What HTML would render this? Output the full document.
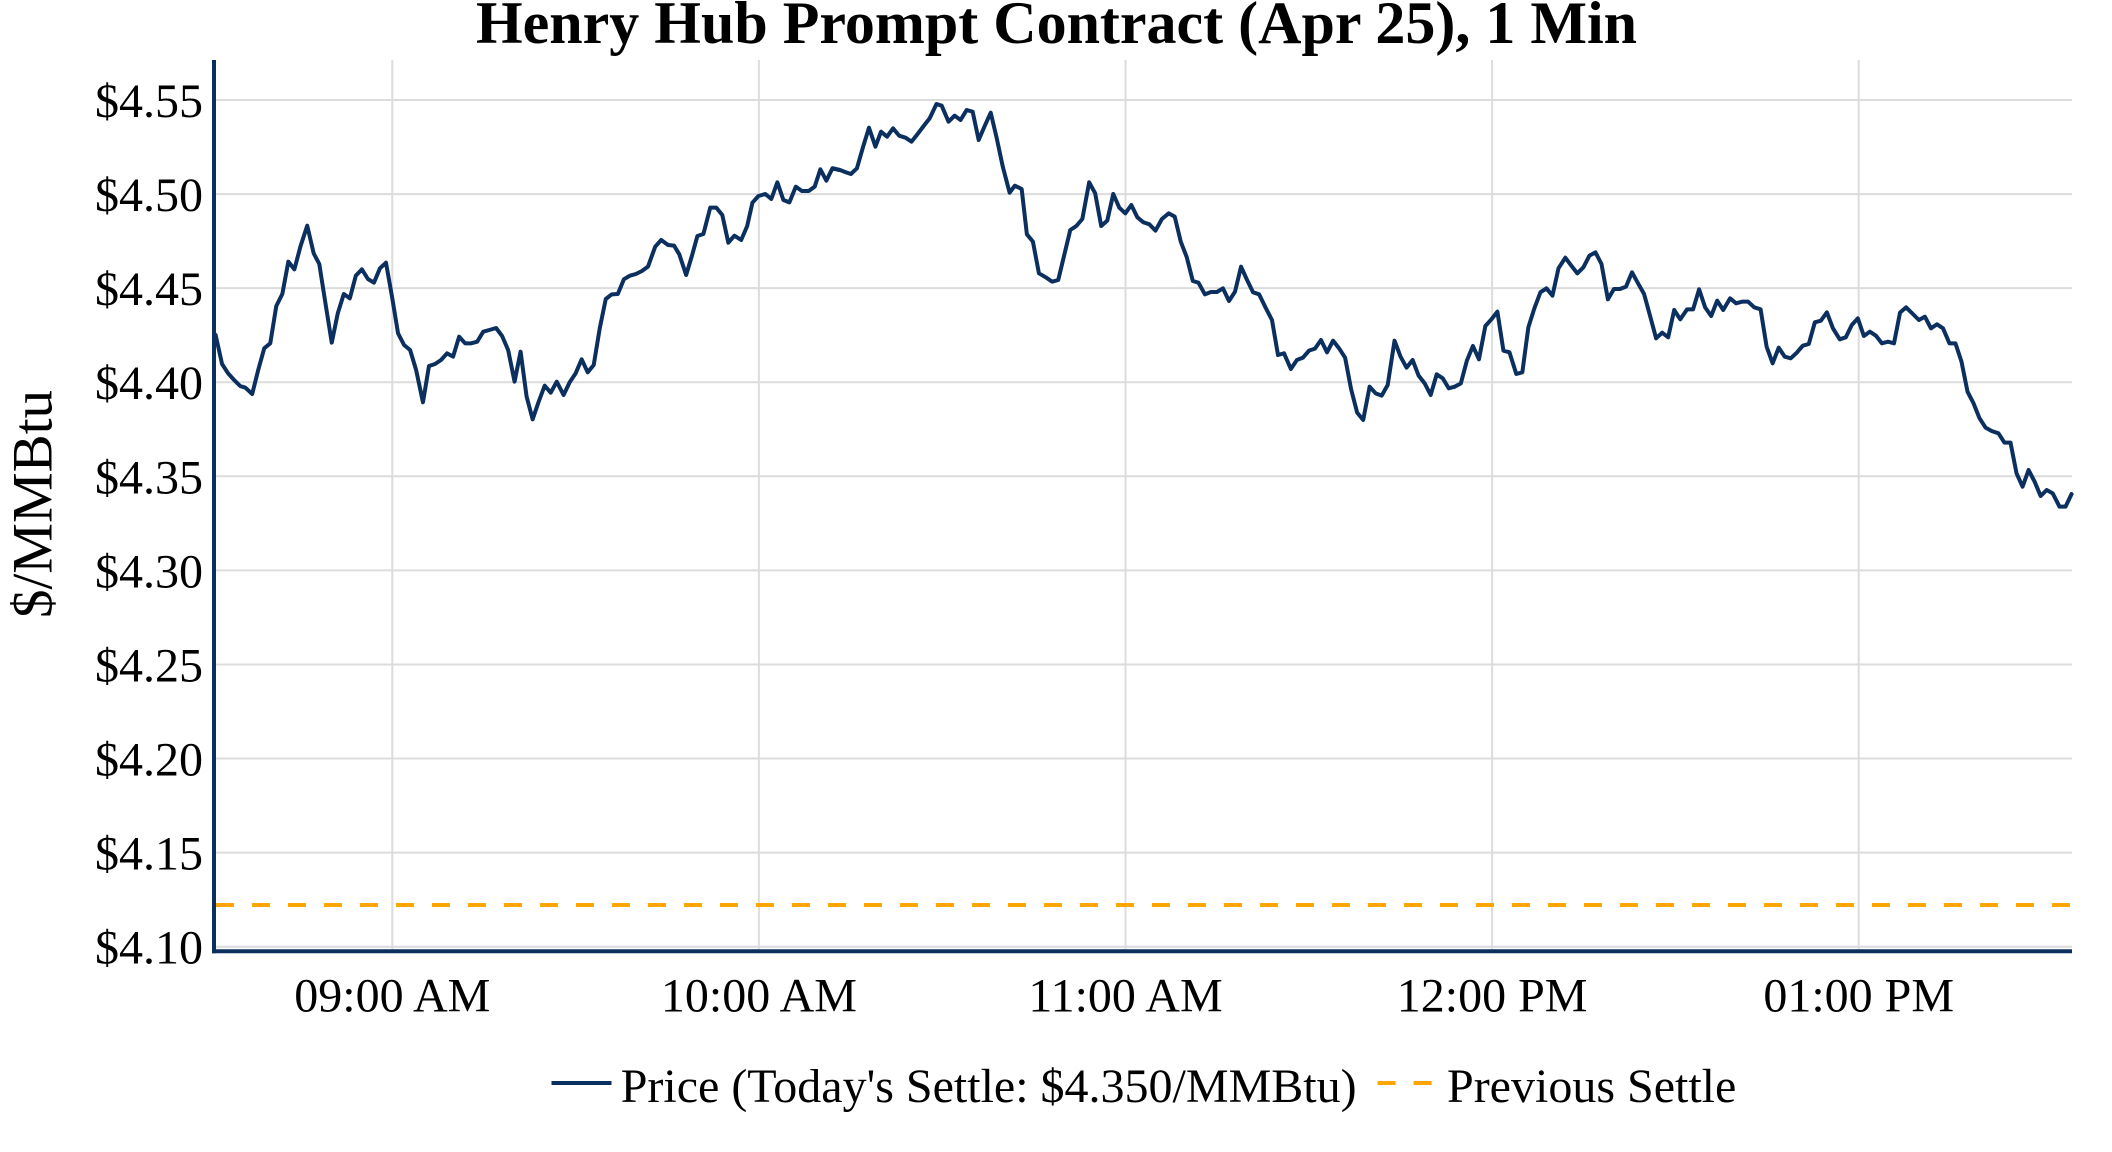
<!DOCTYPE html>
<html>
<head>
<meta charset="utf-8">
<style>
html,body{margin:0;padding:0;background:#fff;}
svg{display:block;}
</style>
</head>
<body>
<svg width="2112" height="1152" viewBox="0 0 2112 1152" xmlns="http://www.w3.org/2000/svg" font-family="'Liberation Serif', 'Times New Roman', serif">
<rect x="0" y="0" width="2112" height="1152" fill="#ffffff"/>

<!-- horizontal gridlines -->
<g stroke="#dcdcdc" stroke-width="2">
<line x1="216" y1="946.7" x2="2072" y2="946.7"/>
<line x1="216" y1="852.6" x2="2072" y2="852.6"/>
<line x1="216" y1="758.5" x2="2072" y2="758.5"/>
<line x1="216" y1="664.5" x2="2072" y2="664.5"/>
<line x1="216" y1="570.4" x2="2072" y2="570.4"/>
<line x1="216" y1="476.3" x2="2072" y2="476.3"/>
<line x1="216" y1="382.2" x2="2072" y2="382.2"/>
<line x1="216" y1="288.1" x2="2072" y2="288.1"/>
<line x1="216" y1="194.1" x2="2072" y2="194.1"/>
<line x1="216" y1="100" x2="2072" y2="100"/>
<!-- vertical gridlines -->
<line x1="392.3" y1="60" x2="392.3" y2="949"/>
<line x1="758.9" y1="60" x2="758.9" y2="949"/>
<line x1="1125.5" y1="60" x2="1125.5" y2="949"/>
<line x1="1492.1" y1="60" x2="1492.1" y2="949"/>
<line x1="1858.7" y1="60" x2="1858.7" y2="949"/>
</g>

<!-- previous settle dashed -->
<line x1="216" y1="905" x2="2072" y2="905" stroke="#ffa500" stroke-width="4" stroke-dasharray="18 18"/>

<!-- price line -->
<g fill="none" stroke="#0b2f5e" stroke-width="4" stroke-linejoin="round" stroke-linecap="round">
<polyline vector-effect="non-scaling-stroke" transform="translate(210,90) scale(0.4018,0.33333)" points="14,735 30,822 45,850 60,870 75,888 88,893 105,912 120,840 135,775 150,760 165,648 180,612 195,515 210,538 225,470 242,407 258,490 272,522 288,645 303,758 318,670 333,612 348,625 363,557 378,538 393,567 408,578 423,535 438,518 453,620 468,730 483,765 498,780 513,840 530,937 545,828 560,822 575,810 590,790 605,800 620,740 635,760 650,760 665,755 680,725 695,720 712,714 727,738 742,780 758,875 773,785 788,920 803,988 818,935 833,887 848,908 863,875 880,915 895,877 910,850 925,808 940,847 955,825 970,715 985,627 1000,613 1015,612 1030,568 1045,557 1060,552 1075,543 1090,530 1108,470 1123,450 1140,465 1155,467 1168,493 1185,555 1200,495 1213,438 1228,432 1245,353 1260,353 1275,375 1290,458 1305,437 1322,450 1337,408 1350,338 1365,318 1382,312 1397,327 1412,277 1427,330 1442,337 1458,290 1473,303 1490,303 1505,290 1519,238 1534,272 1549,235 1565,240"/>
<polyline vector-effect="non-scaling-stroke" transform="translate(830,90) scale(0.4018,0.33333)" points="8,235 25,240 40,247 52,252 67,235 82,172 97,113 113,170 127,125 142,140 157,115 172,137 188,143 203,155 218,132 233,108 248,85 265,42 278,47 295,95 310,77 325,90 340,60 355,65 370,150 385,108 400,68 415,145 430,230 447,308 460,287 477,297 490,433 505,455 520,550 537,562 553,575 568,570 583,495 598,420 613,408 628,387 645,277 660,310 675,408 690,392 705,312 720,353 735,370 750,345 765,382 780,397 795,403 810,422 826,387 843,370 858,380 873,455 888,502 903,573 917,578 933,613 948,606 963,606 978,595 993,633 1008,605 1023,530 1038,570 1053,607 1068,613 1085,655 1100,690 1115,795 1130,790 1147,837 1162,810 1177,803 1192,782 1207,776 1222,750 1237,787 1252,752 1267,775 1282,803 1297,898 1312,968 1327,990 1343,890 1358,910 1373,917 1388,885 1405,752 1420,800 1435,833 1450,810 1465,857 1480,880 1495,915 1510,853 1525,865 1540,895 1555,890"/>
<polyline vector-effect="non-scaling-stroke" transform="translate(1450,90) scale(0.4018,0.33333)" points="12,890 27,880 42,812 57,768 72,808 88,708 103,688 118,665 133,782 148,787 165,852 180,847 195,712 210,655 225,607 240,595 255,617 270,535 287,503 302,527 317,550 332,532 347,497 362,487 377,522 393,628 408,597 423,597 438,590 453,547 468,580 483,612 498,678 513,745 528,728 543,742 558,660 573,688 590,658 605,658 620,598 635,652 650,678 665,632 680,660 697,625 712,640 727,635 742,635 757,652 773,658 788,770 803,820 818,773 833,800 848,805 863,788 878,767 893,762 908,697 923,692 938,667 953,715 970,748 985,742 1000,705 1015,685 1030,738 1045,725 1060,737 1075,760 1090,755 1105,760 1120,668 1135,652 1152,672 1167,690 1182,680 1197,715 1212,703 1227,715 1243,760 1258,760 1273,815 1288,905 1303,940 1318,985 1333,1013 1348,1023 1365,1030 1380,1058 1395,1058 1410,1150 1425,1190 1440,1140 1455,1175 1470,1218 1485,1200 1500,1210 1517,1250 1532,1250 1547,1212"/>
</g>

<!-- axis lines -->
<line x1="214" y1="60" x2="214" y2="953.3" stroke="#0b2f5e" stroke-width="4"/>
<line x1="212" y1="951.3" x2="2072" y2="951.3" stroke="#0b2f5e" stroke-width="4"/>

<!-- y tick labels -->
<g font-size="48" fill="#000" text-anchor="end">
<text x="203" y="963.7">$4.10</text>
<text x="203" y="869.6">$4.15</text>
<text x="203" y="775.5">$4.20</text>
<text x="203" y="681.5">$4.25</text>
<text x="203" y="587.4">$4.30</text>
<text x="203" y="493.3">$4.35</text>
<text x="203" y="399.2">$4.40</text>
<text x="203" y="305.1">$4.45</text>
<text x="203" y="211.1">$4.50</text>
<text x="203" y="117">$4.55</text>
</g>

<!-- x tick labels -->
<g font-size="48" fill="#000" text-anchor="middle">
<text x="392.3" y="1011.5">09:00 AM</text>
<text x="758.9" y="1011.5">10:00 AM</text>
<text x="1125.5" y="1011.5">11:00 AM</text>
<text x="1492.1" y="1011.5">12:00 PM</text>
<text x="1858.7" y="1011.5">01:00 PM</text>
</g>

<!-- y axis title -->
<text transform="translate(51.5,504) rotate(-90)" text-anchor="middle" font-size="57" fill="#000">$/MMBtu</text>

<!-- title -->
<text x="476" y="43" font-size="60" font-weight="bold" fill="#000">Henry Hub Prompt Contract (Apr 25), 1 Min</text>

<!-- legend -->
<line x1="551.5" y1="1083" x2="611.5" y2="1083" stroke="#0b2f5e" stroke-width="4"/>
<text x="620.7" y="1102" font-size="48" fill="#000">Price (Today's Settle: $4.350/MMBtu)</text>
<line x1="1377.6" y1="1083" x2="1437.6" y2="1083" stroke="#ffa500" stroke-width="4" stroke-dasharray="18 18"/>
<text x="1447" y="1102" font-size="48" fill="#000">Previous Settle</text>
</svg>
</body>
</html>
